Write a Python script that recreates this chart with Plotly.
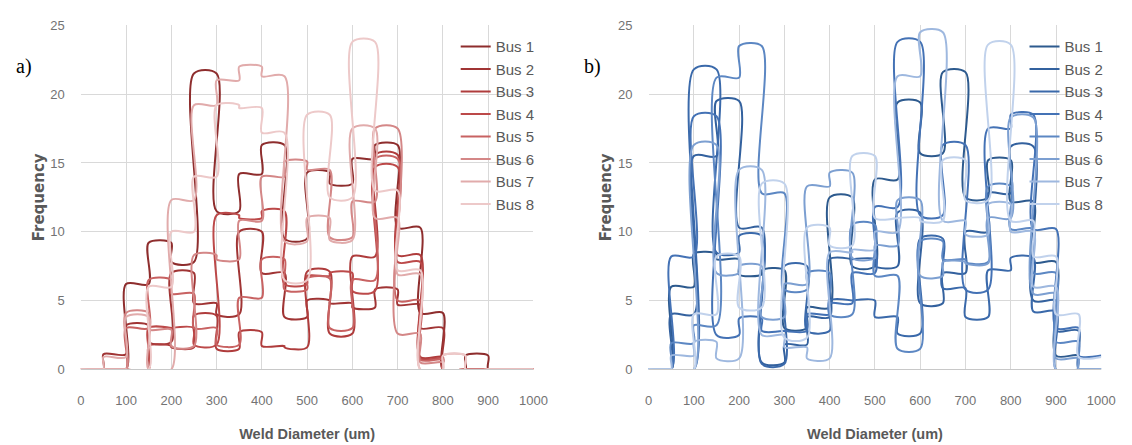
import plotly.graph_objects as go

# Bin start edges (um), bin width 50
BIN_STARTS = list(range(0, 1000, 50))
BIN_WIDTH = 50
SERIES = ["Bus 1", "Bus 2", "Bus 3", "Bus 4", "Bus 5", "Bus 6", "Bus 7", "Bus 8"]

# Panel a) frequencies per bin
A_BUS1 = [0, 0, 6.2, 9.2, 7.8, 21.5, 11.5, 14.2, 16.3, 9.5, 14.3, 13.5, 15.3, 16.3, 10.3, 4.1, 0, 1.0, 0, 0]
A_BUS2 = [0, 1.1, 3.2, 2.0, 7.0, 4.8, 4.0, 10.0, 7.0, 3.8, 5.0, 4.8, 4.5, 5.8, 4.7, 3.0, 0, 0, 0, 0]
A_BUS3 = [0, 0, 0, 1.7, 1.6, 3.9, 1.5, 2.7, 1.7, 1.6, 7.1, 2.6, 8.2, 15.6, 8.3, 0.9, 0, 0, 0, 0]
A_BUS4 = [0, 0, 0, 3.0, 3.0, 1.8, 11.2, 11.0, 11.5, 6.2, 6.8, 7.0, 5.7, 14.7, 7.8, 0.8, 0, 0, 0, 0]
A_BUS5 = [0, 0, 3.0, 6.5, 5.5, 3.0, 1.8, 5.2, 8.0, 5.8, 6.6, 3.0, 6.5, 15.3, 5.0, 0.7, 0, 0, 0, 0]
A_BUS6 = [0, 0, 4.1, 2.9, 1.7, 8.3, 8.0, 10.8, 14.0, 15.1, 14.5, 9.6, 12.2, 17.5, 2.6, 0.5, 0, 0, 0, 0]
A_BUS7 = [0, 0.9, 3.8, 0, 12.3, 19.2, 21.0, 22.0, 21.3, 9.3, 11.0, 9.4, 17.5, 11.0, 6.9, 0, 1.0, 0, 0, 0]
A_BUS8 = [0, 0, 0, 6.0, 10.0, 14.0, 19.2, 19.0, 17.2, 6.5, 18.5, 12.5, 23.8, 13.0, 7.2, 0, 1.0, 0, 0, 0]

# Panel b) frequencies per bin
B_BUS1 = [0, 6.0, 8.4, 8.0, 6.9, 7.2, 3.0, 4.5, 12.5, 7.5, 13.8, 19.4, 15.7, 21.6, 12.5, 15.2, 12.2, 7.8, 1.0, 0]
B_BUS2 = [0, 4.0, 15.5, 19.5, 10.3, 0.5, 1.8, 3.8, 8.0, 8.0, 7.5, 11.4, 4.8, 7.0, 10.0, 12.8, 16.2, 5.0, 2.8, 0]
B_BUS3 = [0, 0, 21.8, 8.5, 9.7, 0.4, 7.5, 2.8, 5.0, 5.0, 3.8, 2.6, 9.5, 5.9, 3.8, 7.2, 8.1, 4.2, 0, 0]
B_BUS4 = [0, 8.2, 18.4, 2.5, 3.7, 2.8, 2.8, 4.0, 4.8, 7.0, 11.8, 23.8, 11.2, 16.3, 5.8, 17.5, 18.5, 10.2, 3.0, 1.0]
B_BUS5 = [0, 1.9, 3.2, 21.2, 23.5, 12.8, 5.8, 7.0, 4.0, 10.5, 6.8, 1.5, 9.3, 8.0, 7.8, 13.3, 10.2, 7.0, 2.0, 0]
B_BUS6 = [0, 0, 16.3, 7.0, 7.5, 3.8, 6.2, 13.3, 14.3, 8.1, 9.0, 12.3, 6.8, 7.8, 7.7, 11.0, 18.3, 5.5, 0.8, 0]
B_BUS7 = [0, 1.0, 2.0, 0.8, 14.5, 2.5, 1.6, 0.8, 8.5, 8.7, 10.0, 21.3, 24.5, 10.8, 9.8, 12.0, 10.0, 6.0, 0, 0]
B_BUS8 = [0, 0, 4.0, 8.2, 4.5, 13.5, 2.3, 10.3, 9.0, 15.5, 11.0, 11.0, 10.8, 15.2, 12.3, 23.6, 10.8, 8.2, 4.0, 0.9]

X_TICKS = list(range(0, 1001, 100))
Y_TICKS = [0, 5, 10, 15, 20, 25]

RED = ["#8E2D2D", "#A03434", "#AF3C3C", "#BC4949", "#C86262", "#D48787", "#E1ABAB", "#EDC9C9"]
BLUE = ["#2D5A8E", "#33619E", "#3A69AA", "#4472B5", "#5C87C3", "#7C9FD1", "#9EB8DF", "#C1D2EC"]

A_DATA = [A_BUS1, A_BUS2, A_BUS3, A_BUS4, A_BUS5, A_BUS6, A_BUS7, A_BUS8]
B_DATA = [B_BUS1, B_BUS2, B_BUS3, B_BUS4, B_BUS5, B_BUS6, B_BUS7, B_BUS8]


def steps(vals):
    xs, ys = [], []
    for s, v in zip(BIN_STARTS, vals):
        xs += [s, s + BIN_WIDTH]
        ys += [v, v]
    return xs, ys


fig = go.Figure()
for name, vals, col in zip(SERIES, A_DATA, RED):
    xs, ys = steps(vals)
    fig.add_trace(go.Scatter(x=xs, y=ys, name=name, mode="lines",
                             line=dict(color=col, width=2, shape="spline", smoothing=0.85),
                             xaxis="x", yaxis="y", legend="legend"))
for name, vals, col in zip(SERIES, B_DATA, BLUE):
    xs, ys = steps(vals)
    fig.add_trace(go.Scatter(x=xs, y=ys, name=name, mode="lines",
                             line=dict(color=col, width=2, shape="spline", smoothing=0.85),
                             xaxis="x2", yaxis="y2", legend="legend2"))

W, H = 1132, 445
tickfont = dict(family="Liberation Sans, Arial, sans-serif", size=13, color="#737373")
titlefont = dict(family="Liberation Sans, Arial, sans-serif", size=14.5, color="#595959")
yfont = dict(family="DejaVu Sans, Verdana, sans-serif", size=15, color="#595959")
legfont = dict(family="Liberation Sans, Arial, sans-serif", size=15, color="#595959")

def xaxis(dom, anchor):
    return dict(domain=dom, anchor=anchor, range=[0, 1000], tickvals=X_TICKS, showgrid=True,
                gridcolor="#d9d9d9", gridwidth=1, zeroline=False, showline=True, linecolor="#c8c8c8",
                linewidth=1, ticks="", tickfont=tickfont, ticklabelstandoff=19,
                title=dict(text="<b>Weld Diameter (um)</b>", font=titlefont, standoff=21))

def yaxis(dom, anchor):
    return dict(domain=dom, anchor=anchor, range=[0, 25], tickvals=Y_TICKS, showgrid=True,
                gridcolor="#d9d9d9", gridwidth=1, zeroline=False, showline=False, ticks="",
                tickfont=tickfont, ticklabelstandoff=15,
                title=dict(text="<b>Frequency</b>", font=yfont, standoff=2))

ydom = [70 / H, 426 / H]
fig.update_layout(
    width=W, height=H, margin=dict(l=0, r=0, t=0, b=0),
    paper_bgcolor="white", plot_bgcolor="white",
    xaxis=xaxis([78 / W, 538 / W], "y"),
    yaxis=yaxis(ydom, "x"),
    xaxis2=xaxis([655 / W, 1115 / W], "y2"),
    yaxis2=yaxis(ydom, "x2"),
    legend=dict(x=459 / W, y=1 - 24 / H, xanchor="left", yanchor="top", bgcolor="rgba(0,0,0,0)",
                font=legfont, itemwidth=30, tracegroupgap=0),
    legend2=dict(x=1037 / W, y=1 - 24 / H, xanchor="left", yanchor="top", bgcolor="rgba(0,0,0,0)",
                 font=legfont, itemwidth=30, tracegroupgap=0),
    annotations=[
        dict(text="a)", x=10 / W, y=1 - 62 / H, xref="paper", yref="paper", xanchor="left",
             yanchor="middle", showarrow=False,
             font=dict(family="Liberation Serif, Times New Roman, serif", size=20, color="black")),
        dict(text="b)", x=587 / W, y=1 - 62 / H, xref="paper", yref="paper", xanchor="left",
             yanchor="middle", showarrow=False,
             font=dict(family="Liberation Serif, Times New Roman, serif", size=20, color="black")),
    ],
)

fig.write_html("out.html")
